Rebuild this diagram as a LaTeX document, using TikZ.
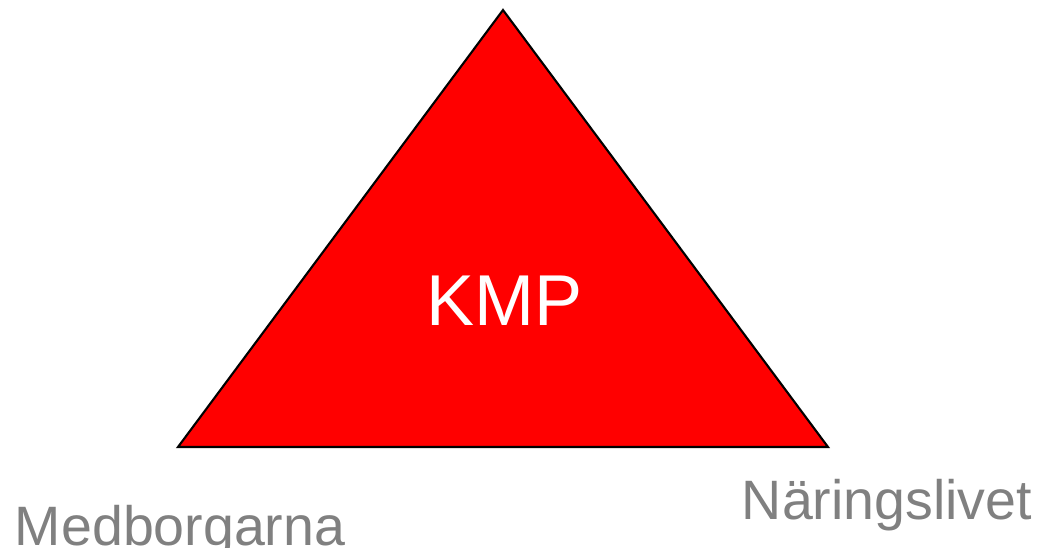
\documentclass[tikz,border=0pt]{standalone}
\usepackage{fontspec}
\setmainfont{Liberation Sans}
\usepackage{tikz}
\usetikzlibrary{positioning}
\definecolor{kmpred}{RGB}{255,0,0}
\definecolor{labelgrey}{RGB}{128,128,128}

\begin{document}
\begin{tikzpicture}
\tikzset{every node/.style={inner sep=0pt,outer sep=0pt},
  corner/.style={text=labelgrey,font=\fontsize{15.8}{18}\selectfont}}
\useasboundingbox (0,0) rectangle (10.38,5.47);

\coordinate (top) at (5.03,5.37);
\coordinate (left) at (1.78,1.00);
\coordinate (right) at (8.28,1.00);
\draw[fill=kmpred,line width=0.6pt] (top) -- (left) -- (right) -- cycle;

\node[anchor=base,text=white,font=\fontsize{20.5}{24}\selectfont](kmp) at (5.045,2.22) {KMP};
\node[corner,anchor=base west](med) at (0.15,0.02) {Medborgarna};
\node[corner,anchor=base west](nar) at (7.42,0.28) {Näringslivet};

\end{tikzpicture}
\end{document}
